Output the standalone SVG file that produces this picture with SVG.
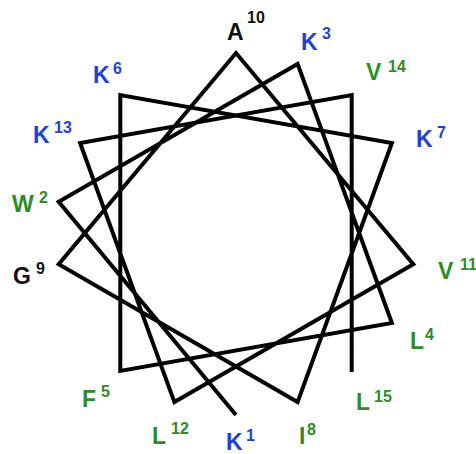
<svg xmlns="http://www.w3.org/2000/svg" width="476" height="454" viewBox="0 0 476 454">
<style>
text{font-family:"Liberation Sans",Arial,sans-serif;font-weight:bold}
.l{font-size:23px}
.s{font-size:16px}
.b{fill:#2341d6}
.g{fill:#2f8c24}
.k{fill:#111}
.wheel{fill:none;stroke:#000;stroke-width:4;stroke-linejoin:miter;stroke-miterlimit:10}
</style>
<rect width="476" height="454" fill="#fff"/>
<g id="connectors">
<polyline class="wheel" points="236,415 58.7,201.7 297.6,63.9 391.9,323 120.3,370.9 120.3,95.1 391.9,143 297.6,402.1 58.7,264.3 236,53 413.3,264.3 174.4,402.1 80.1,143 351.7,95.1 351.7,372"/>
</g>
<g id="A10" class="k"><text class="l" x="227" y="40">A</text><text class="s" x="247" y="23">10</text></g>
<g id="K3" class="b"><text class="l" x="301" y="50">K</text><text class="s" x="322" y="39">3</text></g>
<g id="V14" class="g"><text class="l" x="366" y="80">V</text><text class="s" x="388" y="72">14</text></g>
<g id="K7" class="b"><text class="l" x="416" y="147">K</text><text class="s" x="437" y="138">7</text></g>
<g id="V11" class="g"><text class="l" x="438" y="279">V</text><text class="s" x="460" y="270">11</text></g>
<g id="L4" class="g"><text class="l" x="410" y="349">L</text><text class="s" x="425" y="340">4</text></g>
<g id="L15" class="g"><text class="l" x="356" y="410">L</text><text class="s" x="374" y="402">15</text></g>
<g id="I8" class="g"><text class="l" x="299" y="444">I</text><text class="s" x="307" y="435">8</text></g>
<g id="K1" class="b"><text class="l" x="226" y="450">K</text><text class="s" x="246" y="441">1</text></g>
<g id="L12" class="g"><text class="l" x="152" y="444">L</text><text class="s" x="171" y="434">12</text></g>
<g id="F5" class="g"><text class="l" x="82" y="407">F</text><text class="s" x="101" y="397">5</text></g>
<g id="G9" class="k"><text class="l" x="13" y="284">G</text><text class="s" x="36" y="274">9</text></g>
<g id="W2" class="g"><text class="l" x="12" y="212">W</text><text class="s" x="39" y="203">2</text></g>
<g id="K13" class="b"><text class="l" x="33" y="143">K</text><text class="s" x="54" y="133">13</text></g>
<g id="K6" class="b"><text class="l" x="93" y="83">K</text><text class="s" x="113" y="74">6</text></g>
</svg>
